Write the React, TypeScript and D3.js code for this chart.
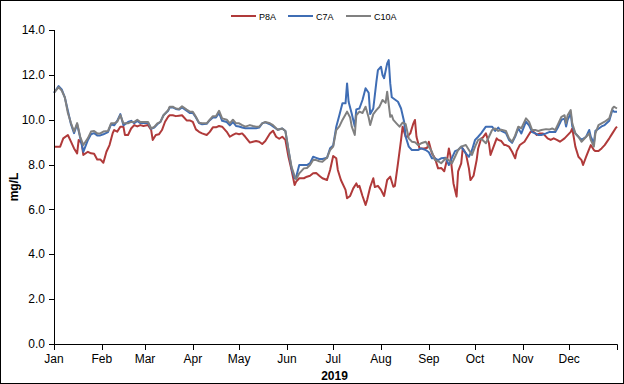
import React from 'react'
import * as d3 from 'd3'

// day of year (0 = Jan 1 2019), dissolved oxygen mg/L
const p8a: [number, number][] = [
  [0, 8.8], [2, 8.8], [4, 8.8], [6, 9.17], [9, 9.32], [11, 9.02], [13, 8.72], [15, 8.5], [16, 9.1], [18, 8.95],
  [19, 8.43], [22, 8.57], [24, 8.5], [26, 8.48], [28, 8.23], [30, 8.23], [32, 8.08], [34, 8.57], [36, 8.87], [38, 9.39],
  [39, 9.54], [41, 9.47], [43, 9.69], [45, 9.69], [46, 9.32], [48, 9.32], [50, 9.61], [52, 9.76], [54, 9.7], [56, 9.76],
  [58, 9.72], [61, 9.76], [63, 9.54], [64, 9.1], [66, 9.32], [68, 9.35], [70, 9.54], [72, 9.91], [74, 10.13], [75, 10.2],
  [77, 10.2], [79, 10.16], [81, 10.18], [83, 10.2], [86, 9.97], [88, 9.97], [90, 9.9], [92, 9.57], [94, 9.46], [96, 9.39],
  [99, 9.32], [101, 9.46], [103, 9.66], [105, 9.66], [107, 9.72], [109, 9.69], [112, 9.46], [114, 9.24], [116, 9.32], [118, 9.39],
  [120, 9.35], [122, 9.39], [124, 9.24], [127, 8.98], [129, 9.02], [131, 9.05], [133, 9.02], [135, 8.92], [137, 9.05], [140, 9.39],
  [142, 9.51], [144, 9.24], [146, 9.15], [148, 9.24], [150, 9.1], [152, 8.35], [154, 7.76], [156, 7.09], [157, 7.24], [159, 7.39],
  [162, 7.39], [164, 7.46], [166, 7.5], [168, 7.61], [170, 7.62], [172, 7.5], [174, 7.39], [177, 7.31], [179, 7.76], [181, 8.38],
  [183, 8.28], [184, 7.76], [186, 7.31], [189, 6.87], [190, 6.5], [192, 6.6], [194, 6.94], [196, 7.16], [197, 7.0], [198, 7.05],
  [200, 6.6], [202, 6.2], [203, 6.42], [205, 7.0], [207, 7.39], [208, 7.0], [210, 7.05], [212, 6.87], [214, 6.6], [216, 7.31],
  [218, 7.46], [220, 7.01], [221, 7.05], [223, 8.05], [225, 9.1], [226, 9.69], [228, 9.24], [229, 9.24], [231, 9.39], [233, 9.84],
  [234, 9.99], [235, 9.24], [237, 8.72], [240, 8.72], [242, 8.75], [243, 9.02], [245, 8.5], [247, 8.28], [249, 7.83], [251, 7.85],
  [253, 7.7], [255, 8.28], [256, 8.72], [257, 8.4], [259, 7.16], [261, 6.57], [262, 7.7], [264, 8.05], [265, 8.72], [267, 8.5],
  [269, 7.83], [270, 7.31], [272, 7.5], [274, 8.2], [275, 8.72], [277, 9.17], [278, 9.2], [280, 9.39], [282, 8.95], [283, 8.43],
  [285, 8.8], [287, 9.17], [288, 9.1], [290, 9.05], [292, 8.87], [293, 8.87], [295, 8.8], [297, 8.57], [299, 8.28], [300, 8.6],
  [302, 8.87], [305, 9.02], [307, 9.24], [309, 9.46], [311, 9.46], [313, 9.32], [315, 9.39], [317, 9.39], [320, 9.17], [322, 9.1],
  [324, 9.17], [326, 9.1], [328, 9.02], [331, 9.17], [335, 9.46], [336, 9.61], [338, 8.8], [340, 8.35], [342, 8.2], [343, 7.98],
  [345, 8.35], [347, 8.7], [348, 8.87], [350, 8.65], [351, 8.6], [353, 8.6], [355, 8.72], [357, 8.87], [360, 9.17], [362, 9.39],
  [364, 9.61], [365, 9.69],
]

const c7a: [number, number][] = [
  [0, 11.2], [3, 11.5], [5, 11.35], [7, 11.0], [9, 10.4], [11, 9.8], [13, 9.4], [15, 9.8], [17, 9.2], [19, 8.57],
  [22, 9.1], [24, 9.35], [26, 9.4], [28, 9.3], [30, 9.3], [32, 9.35], [35, 9.45], [37, 9.8], [39, 9.75], [41, 9.95],
  [43, 10.25], [45, 9.75], [48, 9.9], [50, 9.95], [52, 9.85], [54, 9.95], [56, 9.85], [58, 9.85], [61, 9.85], [63, 9.6],
  [65, 9.65], [67, 9.8], [69, 9.9], [71, 10.2], [74, 10.4], [75, 10.55], [77, 10.55], [79, 10.48], [81, 10.45], [83, 10.55],
  [86, 10.4], [88, 10.3], [90, 10.3], [92, 10.1], [94, 9.85], [96, 9.8], [99, 9.82], [101, 9.98], [103, 10.1], [105, 10.1],
  [107, 10.3], [109, 9.95], [112, 9.9], [114, 9.75], [116, 9.9], [118, 9.72], [120, 9.7], [122, 9.65], [124, 9.62], [127, 9.62],
  [129, 9.62], [131, 9.62], [133, 9.65], [135, 9.84], [137, 9.88], [140, 9.8], [142, 9.7], [145, 9.55], [148, 9.61], [150, 9.5],
  [152, 8.65], [154, 7.83], [156, 7.39], [157, 7.45], [159, 7.98], [162, 7.98], [164, 7.98], [166, 8.06], [168, 8.35], [170, 8.3],
  [172, 8.25], [174, 8.25], [177, 8.3], [179, 8.73], [181, 8.85], [183, 9.69], [185, 10.2], [187, 10.73], [189, 10.73], [190, 11.62],
  [191, 10.8], [193, 10.28], [195, 9.7], [196, 10.46], [198, 10.5], [200, 10.88], [202, 11.4], [204, 11.2], [205, 10.25], [207, 10.5],
  [209, 11.69], [210, 12.21], [212, 12.36], [213, 11.99], [214, 11.85], [216, 12.51], [217, 12.66], [218, 11.62], [219, 11.0], [221, 10.9],
  [223, 10.8], [225, 10.5], [227, 9.91], [228, 9.24], [230, 8.8], [232, 8.65], [234, 8.65], [236, 8.65], [238, 8.72], [241, 8.65],
  [243, 8.55], [245, 8.28], [247, 8.28], [249, 8.2], [251, 8.28], [254, 8.3], [256, 7.98], [258, 8.3], [260, 8.6], [262, 8.65],
  [264, 8.8], [267, 8.5], [269, 8.35], [271, 8.65], [273, 9.1], [275, 9.24], [277, 9.4], [280, 9.69], [282, 9.69], [284, 9.69],
  [286, 9.5], [288, 9.65], [290, 9.5], [293, 9.4], [295, 9.1], [297, 8.97], [299, 9.25], [301, 9.62], [303, 9.39], [306, 9.91],
  [308, 9.75], [310, 9.45], [312, 9.39], [314, 9.32], [316, 9.32], [319, 9.39], [321, 9.45], [323, 9.45], [325, 9.45], [327, 9.7],
  [329, 10.0], [331, 10.05], [332, 9.7], [333, 10.0], [335, 10.28], [336, 9.7], [338, 9.39], [340, 9.24], [342, 9.1], [345, 9.24],
  [347, 9.54], [348, 9.24], [350, 8.95], [351, 9.5], [353, 9.6], [355, 9.7], [357, 9.76], [360, 9.95], [362, 10.43], [363, 10.36],
  [365, 10.36],
]

const c10a: [number, number][] = [
  [0, 11.2], [3, 11.45], [5, 11.3], [7, 11.0], [9, 10.3], [11, 9.85], [13, 9.47], [15, 9.85], [17, 9.24], [19, 8.87],
  [22, 9.18], [24, 9.47], [26, 9.5], [28, 9.39], [30, 9.39], [32, 9.47], [35, 9.5], [37, 9.84], [39, 9.84], [41, 9.91],
  [43, 10.2], [45, 9.84], [48, 9.84], [50, 9.9], [52, 9.9], [54, 10.0], [56, 9.9], [58, 9.9], [61, 9.9], [63, 9.61],
  [65, 9.68], [67, 9.84], [69, 9.9], [71, 10.2], [74, 10.43], [75, 10.58], [77, 10.58], [79, 10.5], [81, 10.48], [83, 10.6],
  [86, 10.45], [88, 10.36], [90, 10.36], [92, 10.13], [94, 9.87], [96, 9.84], [99, 9.84], [101, 10.0], [103, 10.16], [105, 10.16],
  [107, 10.4], [109, 10.06], [112, 10.0], [114, 9.84], [116, 10.0], [118, 9.84], [120, 9.84], [122, 9.76], [124, 9.69], [127, 9.76],
  [129, 9.72], [131, 9.69], [133, 9.69], [135, 9.84], [137, 9.9], [140, 9.84], [142, 9.76], [145, 9.55], [148, 9.61], [150, 9.5],
  [152, 8.65], [154, 7.9], [156, 7.49], [157, 7.34], [159, 7.61], [162, 7.83], [164, 7.85], [166, 7.98], [168, 8.2], [170, 8.2],
  [172, 8.15], [174, 8.13], [177, 8.3], [179, 8.65], [181, 8.8], [183, 9.54], [185, 9.7], [187, 9.99], [190, 10.36], [192, 10.1],
  [193, 9.7], [195, 9.32], [196, 10.2], [198, 10.36], [200, 10.3], [202, 10.58], [204, 10.1], [205, 9.76], [207, 10.25], [209, 10.43],
  [211, 10.58], [213, 10.88], [215, 10.75], [216, 11.25], [218, 10.13], [219, 10.2], [220, 9.99], [222, 9.84], [224, 9.69], [226, 9.87],
  [228, 9.8], [230, 9.17], [232, 9.02], [234, 9.0], [236, 8.87], [238, 8.95], [241, 9.02], [243, 8.8], [245, 8.57], [247, 8.2],
  [249, 8.15], [251, 8.06], [254, 8.28], [256, 8.2], [258, 8.06], [260, 8.35], [262, 8.65], [264, 8.8], [267, 8.87], [269, 8.65],
  [271, 8.43], [273, 8.8], [275, 9.1], [277, 9.15], [280, 8.95], [282, 9.24], [284, 9.54], [286, 9.61], [288, 9.5], [290, 9.55],
  [293, 9.5], [295, 9.17], [297, 9.02], [299, 9.3], [301, 9.69], [303, 9.62], [306, 10.06], [308, 9.9], [310, 9.54], [312, 9.54],
  [314, 9.5], [316, 9.54], [319, 9.58], [321, 9.56], [323, 9.61], [325, 9.54], [327, 9.84], [329, 10.13], [331, 10.2], [332, 9.84],
  [333, 10.2], [335, 10.43], [336, 9.84], [338, 9.39], [340, 9.24], [342, 9.02], [345, 9.24], [347, 9.39], [348, 9.1], [350, 8.8],
  [351, 9.39], [353, 9.76], [355, 9.84], [357, 9.91], [360, 10.06], [362, 10.5], [363, 10.58], [365, 10.5],
]

const seriesNames = ['P8A', 'C7A', 'C10A']
const seriesColors = ['#B03A3A', '#3F6DB4', '#808080']
const yTicks = [0, 2, 4, 6, 8, 10, 12, 14]
const monthLabels = ['Jan', 'Feb', 'Mar', 'Apr', 'May', 'Jun', 'Jul', 'Aug', 'Sep', 'Oct', 'Nov', 'Dec']

const W = 624
const H = 384
const start = new Date(2019, 0, 1)
const end = new Date(2020, 0, 1)
const font = '"Liberation Sans", Arial, sans-serif'

const App = () => {
  const x = d3.scaleTime().domain([start, end]).range([54, 617])
  const y = d3.scaleLinear().domain([0, 14]).range([344, 30])

  const line = d3
    .line<[number, number]>()
    .x((d) => x(d3.timeDay.offset(start, d[0])))
    .y((d) => y(d[1]))

  const monthTicks = d3.timeMonth.range(start, d3.timeDay.offset(end, 1))
  const allSeries = [p8a, c7a, c10a]

  // legend geometry
  const legendX = [231, 288, 346]

  return (
    <svg
      width={W}
      height={H}
      style={{ position: 'absolute', left: 0, top: 0, background: '#fff' }}
      fontFamily={font}
    >
      <rect x={0.5} y={0.5} width={W - 1} height={H - 1} fill="#fff" stroke="#000" strokeWidth={1} />

      {/* legend */}
      {seriesNames.map((name, i) => (
        <g key={name} transform={`translate(${legendX[i]},16)`}>
          <line x1={0} x2={25} y1={0} y2={0} stroke={seriesColors[i]} strokeWidth={2} />
          <text x={28} y={3.5} fontSize={9} fill="#000">
            {name}
          </text>
        </g>
      ))}

      {/* series */}
      {allSeries.map((s, i) => (
        <path
          key={seriesNames[i]}
          d={line(s) || ''}
          fill="none"
          stroke={seriesColors[i]}
          strokeWidth={2}
          strokeLinejoin="round"
        />
      ))}

      {/* y axis */}
      <line x1={54.5} x2={54.5} y1={y(14)} y2={y(0)} stroke="#000" />
      {yTicks.map((t) => (
        <g key={t}>
          <line x1={49} x2={54.5} y1={Math.round(y(t)) + 0.5} y2={Math.round(y(t)) + 0.5} stroke="#000" />
          <text x={45} y={y(t)} dy="0.35em" textAnchor="end" fontSize={12} fill="#000">
            {t.toFixed(1)}
          </text>
        </g>
      ))}
      <text
        transform={`translate(18,${(y(0) + y(14)) / 2}) rotate(-90)`}
        textAnchor="middle"
        fontSize={12}
        fontWeight="bold"
        fill="#000"
      >
        mg/L
      </text>

      {/* x axis */}
      <line x1={54} x2={617.5} y1={344.5} y2={344.5} stroke="#000" />
      {monthTicks.map((m) => (
        <line
          key={m.getTime()}
          x1={Math.round(x(m)) + 0.5}
          x2={Math.round(x(m)) + 0.5}
          y1={344.5}
          y2={350}
          stroke="#000"
        />
      ))}
      {monthTicks.slice(0, 12).map((m, i) => (
        <text key={monthLabels[i]} x={x(m)} y={363} textAnchor="middle" fontSize={12} fill="#000">
          {monthLabels[i]}
        </text>
      ))}
      <text x={(x(start) + x(end)) / 2 - 1} y={380} textAnchor="middle" fontSize={12} fontWeight="bold" fill="#000">
        2019
      </text>
    </svg>
  )
}

export default App
